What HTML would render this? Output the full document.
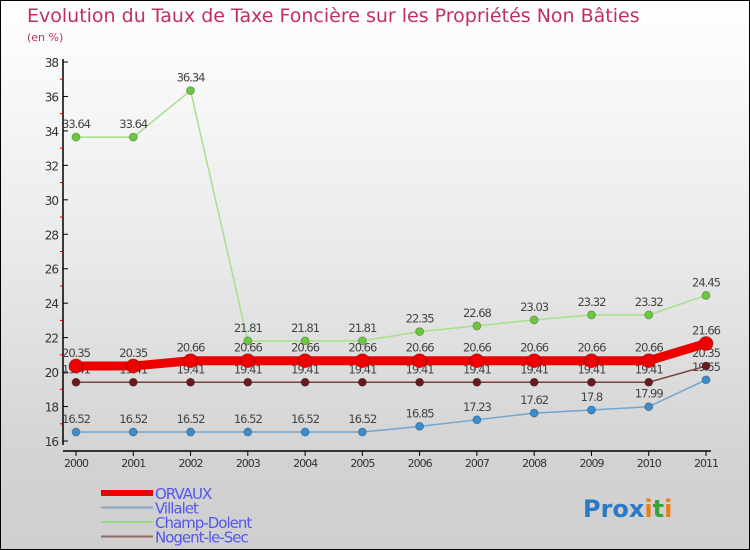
<!DOCTYPE html>
<html><head><meta charset="utf-8"><style>
body{margin:0;}
#wrap{position:relative;width:748px;height:548px;border:1px solid #000;background:linear-gradient(#ffffff 0%,#eaeaea 45%,#d2d2d2 85%,#cfcfcf 100%);font-family:"DejaVu Sans","Liberation Sans",sans-serif;overflow:hidden}
svg{position:absolute;left:0;top:0}
</style></head><body>
<div id="wrap">
<svg id="chart" width="750" height="550"></svg>
</div>
<script>
const years=[2000,2001,2002,2003,2004,2005,2006,2007,2008,2009,2010,2011];
const orvaux=[20.35,20.35,20.66,20.66,20.66,20.66,20.66,20.66,20.66,20.66,20.66,21.66];
const villalet=[16.52,16.52,16.52,16.52,16.52,16.52,16.85,17.23,17.62,17.8,17.99,19.55];
const champ=[33.64,33.64,36.34,21.81,21.81,21.81,22.35,22.68,23.03,23.32,23.32,24.45];
const nogent=[19.41,19.41,19.41,19.41,19.41,19.41,19.41,19.41,19.41,19.41,19.41,20.35];
const yTicks=[16,18,20,22,24,26,28,30,32,34,36,38];
const NS="http://www.w3.org/2000/svg";
const svg=document.getElementById('chart');
function x(i){return 75+i*(630/11);}
function y(v){return 440-(v-16)*(379/22);}
function el(t,a,p){const e=document.createElementNS(NS,t);for(const k in a)e.setAttribute(k,a[k]);(p||svg).appendChild(e);return e;}
let t=el('text',{x:26,y:21,'font-size':19,fill:'#c0305a'});t.textContent='Evolution du Taux de Taxe Foncière sur les Propriétés Non Bâties';

t=el('text',{x:26,y:40,'font-size':11,fill:'#c0305a'});t.textContent='(en %)';

let a=el('line',{x1:62,y1:58,x2:62,y2:444,stroke:'#000','stroke-width':1.5});

a=el('line',{x1:62,y1:450,x2:710,y2:450,stroke:'#000','stroke-width':1.5});

yTicks.forEach(v=>{
 el('line',{x1:62,y1:y(v),x2:67,y2:y(v),stroke:'#000'});
 if(v<38)el('line',{x1:59,y1:y(v+1),x2:62,y2:y(v+1),stroke:'#d00'});
 const l=el('text',{x:57,y:y(v)+5,'font-size':12,fill:'#333','text-anchor':'end','letter-spacing':'-1'});l.textContent=v;
 
});
years.forEach((yr,i)=>{
 el('line',{x1:x(i),y1:450,x2:x(i),y2:455,stroke:'#000'});
 const l=el('text',{x:x(i),y:466,'font-size':11,fill:'#333','text-anchor':'middle','letter-spacing':'-1'});l.textContent=yr;
 
});
function series(name,data,color,w,r,dot){
 const g=el('g',{});
 
 el('polyline',{points:data.map((v,i)=>x(i)+','+y(v)).join(' '),fill:'none',stroke:color,'stroke-width':w,'stroke-linejoin':'round'},g);
 data.forEach((v,i)=>{
  const c=el('circle',{cx:x(i),cy:y(v),r:r,fill:dot,stroke:'rgba(0,0,0,0.25)','stroke-width':1},g);
  
  const l=el('text',{x:x(i),y:y(v)-9,'font-size':11.5,fill:'#444','text-anchor':'middle','letter-spacing':'-1'},g);l.textContent=v;
  
 });
}
series('villalet',villalet,'#6fa6d3',1.5,4,'#3a8ccc');
series('nogent',nogent,'#7a4040',1.5,4,'#6a1a1a');
series('champ-dolent',champ,'#a8e08a',1.5,4,'#6cc83c');
series('orvaux',orvaux,'#ee0000',9,7,'#ee0000');
const leg=[['ORVAUX','#ee0000',6],['Villalet','#7fa8c8',2],['Champ-Dolent','#98d880',2],['Nogent-le-Sec','#906868',2]];
leg.forEach((L,i)=>{
 const yy=492+i*14.5;
 const g=el('g',{});
 el('line',{x1:100,y1:yy,x2:152,y2:yy,stroke:L[1],'stroke-width':L[2]},g);
 const tt=el('text',{x:154,y:yy+6,'font-size':15,fill:'#5555ee','letter-spacing':'-1'},g);tt.textContent=L[0];
});
const lg=el('text',{x:582,y:516,'font-size':24,'font-weight':'bold','font-family':'"DejaVu Sans",sans-serif'});

[['Pro','#2a7ac8'],['x','#2a7ac8'],['i','#e8801a'],['t','#3aa23a'],['i','#e8801a']].forEach(p=>{const s=el('tspan',{fill:p[1]},lg);s.textContent=p[0];});
</script>
</body></html>
